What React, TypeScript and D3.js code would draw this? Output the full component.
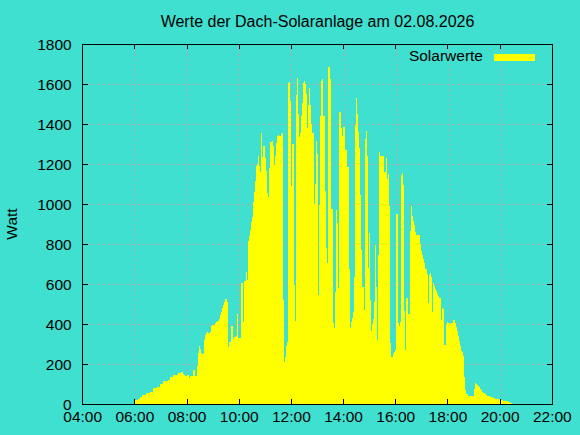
import React from 'react'
import * as d3 from 'd3'

// Messzeitpunkte (HH:MM) und Leistung in Watt
const zeiten: string[] = [
    '05:58', '06:07', '06:12', '06:16', '06:26', '06:35', '06:42', '06:50', '06:58', '07:05',
    '07:17', '07:21', '07:28', '07:40', '07:45', '07:50', '07:53', '07:55', '08:00', '08:04',
    '08:07', '08:14', '08:18', '08:23', '08:25', '08:27', '08:30', '08:32', '08:34', '08:39',
    '08:41', '08:44', '08:46', '08:48', '08:53', '08:55', '08:57', '09:02', '09:04', '09:07',
    '09:09', '09:11', '09:13', '09:16', '09:18', '09:20', '09:23', '09:25', '09:27', '09:32',
    '09:34', '09:36', '09:41', '09:46', '09:48', '09:53', '09:55', '09:57', '10:04', '10:09',
    '10:11', '10:16', '10:18', '10:20', '10:22', '10:25', '10:27', '10:29', '10:32', '10:34',
    '10:36', '10:39', '10:41', '10:43', '10:45', '10:48', '10:50', '10:52', '10:55', '10:59',
    '11:02', '11:04', '11:06', '11:08', '11:11', '11:15', '11:18', '11:20', '11:22', '11:25',
    '11:27', '11:29', '11:31', '11:34', '11:36', '11:38', '11:41', '11:43', '11:45', '11:48',
    '11:50', '11:52', '11:54', '11:57', '11:59', '12:01', '12:06', '12:08', '12:11', '12:13',
    '12:15', '12:17', '12:20', '12:22', '12:24', '12:27', '12:29', '12:31', '12:34', '12:36',
    '12:38', '12:40', '12:43', '12:45', '12:47', '12:52', '12:54', '12:57', '12:59', '13:01',
    '13:03', '13:06', '13:08', '13:10', '13:13', '13:17', '13:20', '13:22', '13:24', '13:29',
    '13:31', '13:36', '13:38', '13:40', '13:43', '13:45', '13:47', '13:50', '13:54', '13:56',
    '13:59', '14:03', '14:08', '14:13', '14:15', '14:17', '14:19', '14:22', '14:24', '14:26',
    '14:29', '14:31', '14:33', '14:36', '14:38', '14:40', '14:42', '14:47', '14:49', '14:52',
    '14:54', '14:56', '14:59', '15:01', '15:03', '15:05', '15:08', '15:10', '15:12', '15:15',
    '15:17', '15:19', '15:22', '15:24', '15:33', '15:38', '15:40', '15:42', '15:44', '15:47',
    '15:49', '15:51', '15:54', '15:56', '15:58', '16:01', '16:05', '16:07', '16:10', '16:12',
    '16:14', '16:17', '16:19', '16:21', '16:24', '16:28', '16:33', '16:35', '16:37', '16:40',
    '16:42', '16:44', '16:47', '16:56', '16:58', '17:00', '17:03', '17:05', '17:07', '17:12',
    '17:14', '17:16', '17:19', '17:21', '17:23', '17:26', '17:28', '17:30', '17:33', '17:35',
    '17:37', '17:39', '17:42', '17:44', '17:46', '17:49', '17:51', '17:56', '17:58', '18:00',
    '18:02', '18:05', '18:07', '18:12', '18:16', '18:19', '18:21', '18:23', '18:25', '18:28',
    '18:30', '18:32', '18:35', '18:37', '18:39', '18:42', '18:46', '19:00', '19:02', '19:05',
    '19:07', '19:09', '19:11', '19:14', '19:16', '19:18', '19:21', '19:23', '19:25', '19:28',
    '19:30', '19:34', '19:37', '19:39', '19:44', '19:48', '20:00', '20:02', '20:07', '20:18',
    '20:23', '20:27',
]

const watt: number[] = [
    20, 25, 37, 45, 53, 62, 78, 87, 98, 117,
    120, 133, 145, 157, 158, 148, 145, 142, 145, 132,
    140, 170, 140, 190, 253, 290, 273, 257, 250, 320,
    345, 353, 360, 357, 362, 390, 393, 397, 403, 408,
    413, 417, 423, 445, 462, 478, 495, 512, 523, 512,
    287, 312, 390, 323, 333, 340, 450, 328, 605, 412,
    615, 662, 620, 815, 840, 870, 912, 937, 1012, 1062,
    1117, 1190, 1200, 1240, 1190, 1162, 1357, 1237, 1290, 1232,
    1167, 1053, 1037, 1182, 1312, 1317, 1290, 1195, 1240, 1307,
    1340, 1345, 1340, 1342, 1348, 1353, 520, 208, 237, 290,
    312, 1603, 1608, 1515, 1092, 1298, 595, 417, 1545, 1632,
    1448, 1337, 1353, 1440, 1503, 1603, 1615, 1598, 1548, 1378,
    1495, 1582, 1495, 1398, 1357, 1000, 1100, 1315, 1250, 545,
    995, 1440, 1615, 1625, 1440, 1065, 778, 703, 1687, 1625,
    975, 403, 382, 558, 970, 903, 578, 1458, 1378, 1340,
    1383, 1270, 1183, 675, 382, 412, 432, 458, 637, 1395,
    1532, 1448, 1362, 1282, 1045, 770, 587, 470, 1325, 1367,
    1240, 682, 853, 520, 365, 398, 425, 512, 795, 587,
    320, 745, 1258, 1238, 1158, 1228, 1123, 1152, 990, 303,
    233, 237, 248, 262, 270, 948, 407, 392, 412, 1145,
    1153, 1095, 465, 270, 528, 448, 867, 992, 940, 917,
    895, 862, 846, 800, 767, 745, 725, 707, 673, 648,
    507, 645, 653, 633, 462, 603, 590, 575, 565, 550,
    540, 532, 528, 420, 482, 475, 295, 400, 408, 407,
    403, 400, 407, 420, 407, 383, 365, 340, 315, 290,
    265, 262, 242, 133, 70, 50, 40, 73, 103, 100,
    95, 90, 83, 75, 70, 62, 57, 53, 48, 45,
    42, 40, 37, 33, 30, 27, 23, 20, 15, 12,
    7, 0,
]

const xTickLabels = ['04:00', '06:00', '08:00', '10:00', '12:00', '14:00', '16:00', '18:00', '20:00', '22:00']
const yTicks = [0, 200, 400, 600, 800, 1000, 1200, 1400, 1600, 1800]

const W = 580
const H = 435
const left = 82.7
const right = 552.3
const top = 44
const bottom = 404
const font = '"Liberation Sans", Arial, sans-serif'
const bg = '#40e0d0'
const gridColor = '#bf9fa8'
const tickLen = 5

const parse = d3.timeParse('%H:%M')

const App: React.FC = () => {
    const x = d3
        .scaleTime()
        .domain([parse('04:00') as Date, parse('22:00') as Date])
        .range([left, right])
    const y = d3.scaleLinear().domain([0, 1800]).range([bottom, top])

    const data: [Date, number][] = zeiten.map((t, i) => [parse(t) as Date, watt[i]])

    const area = d3
        .area<[Date, number]>()
        .x((d) => x(d[0]))
        .y0(y(0))
        .y1((d) => y(d[1]))
        .curve(d3.curveStepAfter)

    const xTicks = xTickLabels.map((t) => parse(t) as Date)
    const fmt = d3.timeFormat('%H:%M')

    return (
        <svg
            width={W}
            height={H}
            style={{ position: 'absolute', left: 0, top: 0, display: 'block' }}
            fontFamily={font}
        >
            <rect x={0} y={0} width={W} height={H} fill={bg} />

            {/* Gitterlinien */}
            <g stroke={gridColor} strokeWidth={1} strokeDasharray="2,3">
                {yTicks.slice(1, -1).map((v) => (
                    <line key={v} x1={left} x2={right} y1={Math.round(y(v)) + 0.5} y2={Math.round(y(v)) + 0.5} />
                ))}
                {xTicks.slice(1, -1).map((d) => (
                    <line key={+d} x1={Math.round(x(d)) + 0.5} x2={Math.round(x(d)) + 0.5} y1={top} y2={bottom} />
                ))}
            </g>

            {/* Solarwerte */}
            <path d={area(data) || ''} fill="#ffff00" shapeRendering="crispEdges" />

            {/* Rahmen und Ticks */}
            <g stroke="#000" strokeWidth={1} fill="none" shapeRendering="crispEdges">
                <rect x={left} y={top} width={right - left} height={bottom - top} />
                {yTicks.map((v) => (
                    <g key={v}>
                        <line x1={left} x2={left + tickLen} y1={y(v)} y2={y(v)} />
                        <line x1={right - tickLen} x2={right} y1={y(v)} y2={y(v)} />
                    </g>
                ))}
                {xTicks.map((d) => (
                    <g key={+d}>
                        <line x1={x(d)} x2={x(d)} y1={bottom} y2={bottom - tickLen} />
                        <line x1={x(d)} x2={x(d)} y1={top} y2={top + tickLen} />
                    </g>
                ))}
            </g>

            {/* Achsenbeschriftung */}
            <g fontSize={15.5} fill="#000">
                {yTicks.map((v) => (
                    <text key={v} x={left - 11} y={y(v)} dy="0.36em" textAnchor="end">
                        {v}
                    </text>
                ))}
                {xTicks.map((d) => (
                    <text key={+d} x={x(d)} y={422} textAnchor="middle">
                        {fmt(d)}
                    </text>
                ))}
                <text x={(left + right) / 2} y={27} textAnchor="middle" fontSize={16}>
                    Werte der Dach-Solaranlage am 02.08.2026
                </text>
                <text transform={`translate(17,${(top + bottom) / 2}) rotate(-90)`} textAnchor="middle">
                    Watt
                </text>
                <text x={483} y={61} textAnchor="end">
                    Solarwerte
                </text>
            </g>
            <rect x={494} y={54} width={41} height={7} fill="#ffff00" />
        </svg>
    )
}

export default App
